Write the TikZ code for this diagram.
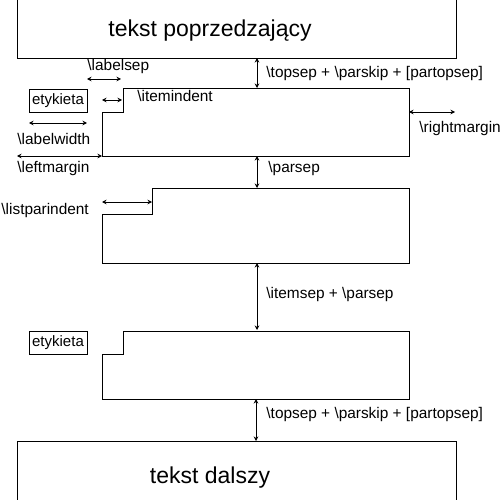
\documentclass[tikz,border=0pt]{standalone}
\usepackage{fontspec}
\setmainfont{Liberation Sans}
\usetikzlibrary{arrows.meta}
\begin{document}
\begin{tikzpicture}[x=1pt,y=-1pt, line width=0.9pt,
  dim/.style={{Stealth[length=4.5pt,width=4.5pt]}-{Stealth[length=4.5pt,width=4.5pt]}, line width=0.8pt},
  lbl/.style={anchor=base west, inner sep=0pt, font=\fontsize{15.4}{18}\selectfont},
  big/.style={anchor=base, inner sep=0pt, font=\fontsize{23}{27}\selectfont},
  tag/.style={draw, line width=0.8pt, minimum width=58pt, minimum height=23pt, inner sep=0pt, font=\fontsize{15}{18}\selectfont},
  textblock/.style={draw, line width=0.9pt, minimum width=439pt, minimum height=80pt, inner sep=0pt}]
\useasboundingbox (0,0) rectangle (500,500);
\clip (0,0) rectangle (500,500);
% surrounding text blocks
\node[textblock] (prev) at (236.5,18) {};
\node[big] (prevtxt) at (210,37) {tekst poprzedzający};
\node[textblock] (next) at (236.5,481) {};
\node[big] (nexttxt) at (210,483) {tekst dalszy};
% item shapes
\draw (102,156) coordinate (i1bl) -- (102,112) -- (123,112) coordinate (i1step) -- (123,88) coordinate (i1tl) -- (409,88) -- (409,156) coordinate (i1br) -- cycle;
\draw (102,263) coordinate (i2bl) -- (102,214) -- (152,214) -- (152,188) coordinate (i2tl) -- (409,188) -- (409,263) coordinate (i2br) -- cycle;
\draw (102,399) coordinate (i3bl) -- (102,354) -- (123,354) -- (123,331) coordinate (i3tl) -- (409,331) -- (409,399) coordinate (i3br) -- cycle;
% labels (etykieta)
\node[tag] (tag1) at (58,100.5) {etykieta};
\node[tag] (tag2) at (58,342.5) {etykieta};
% coordinates for dimension arrows
\coordinate (ts1a) at (257,58);   \coordinate (ts1b) at (257,88);
\coordinate (lsa) at (87,79);     \coordinate (lsb) at (121,79);
\coordinate (iia) at (102,100);   \coordinate (iib) at (122,100);
\coordinate (lwa) at (29,123);    \coordinate (lwb) at (87,123);
\coordinate (lma) at (17,156);    \coordinate (lmb) at (102,156);
\coordinate (rma) at (409,112);   \coordinate (rmb) at (455,112);
\coordinate (psa) at (257,156);   \coordinate (psb) at (257,188);
\coordinate (lpa) at (102,202);   \coordinate (lpb) at (152,202);
\coordinate (isa) at (257,263);   \coordinate (isb) at (257,330);
\coordinate (ts2a) at (256,399);  \coordinate (ts2b) at (256,441);
% dimension arrows
\draw[dim] (ts1a) -- (ts1b);
\draw[dim] (lsa) -- (lsb);
\draw[dim] (iia) -- (iib);
\draw[dim] (lwa) -- (lwb);
\draw[dim] (lma) -- (lmb);
\draw[dim] (rma) -- (rmb);
\draw[dim] (psa) -- (psb);
\draw[dim] (lpa) -- (lpb);
\draw[dim] (isa) -- (isb);
\draw[dim] (ts2a) -- (ts2b);
% dimension labels
\node[lbl] (l1) at (266,78) {\textbackslash topsep + \textbackslash parskip + [partopsep]};
\node[lbl] (l2) at (87,71) {\textbackslash labelsep};
\node[lbl] (l3) at (137,102) {\textbackslash itemindent};
\node[lbl] (l4) at (17,144) {\textbackslash labelwidth};
\node[lbl] (l5) at (17,172) {\textbackslash leftmargin};
\node[lbl] (l6) at (419,132) {\textbackslash rightmargin};
\node[lbl] (l7) at (268,172) {\textbackslash parsep};
\node[lbl] (l8) at (1,214) {\textbackslash listparindent};
\node[lbl] (l9) at (266,298) {\textbackslash itemsep + \textbackslash parsep};
\node[lbl] (l10) at (266,418) {\textbackslash topsep + \textbackslash parskip + [partopsep]};
\end{tikzpicture}
\end{document}
